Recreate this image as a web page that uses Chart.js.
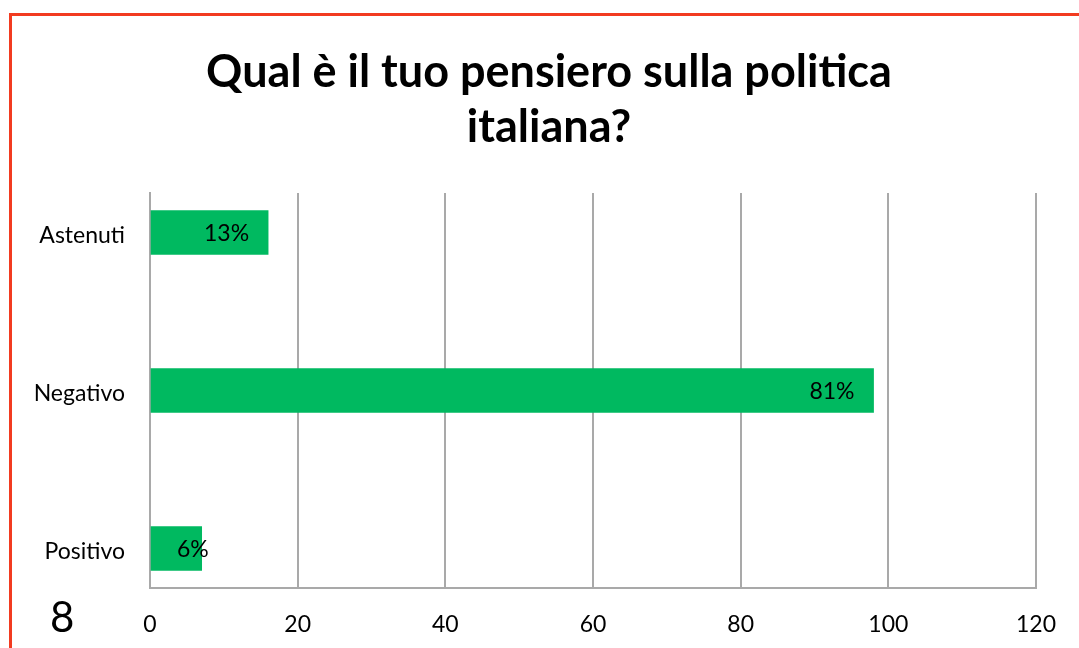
<!DOCTYPE html>
<html>
<head>
<meta charset="utf-8">
<script src="https://cdn.jsdelivr.net/npm/chart.js@4.4.1/dist/chart.umd.min.js"></script>
<style>
    html, body { margin: 0; padding: 0; background: #fff; overflow: hidden; }
    #frame {
        position: absolute; left: 9px; top: 13px; width: 1100px; height: 700px;
        border-left: 3px solid #f23b20; border-top: 3px solid #f23b20;
    }
    #chart { position: absolute; left: 0; top: 0; }
    #slide-num {
        position: absolute; left: 50px; top: 591px;
        font-family: Lato, sans-serif; font-size: 42px; color: #000;
    }
</style>
</head>
<body>
<div id="frame"></div>
<canvas id="chart" width="1079" height="648"></canvas>
<div id="slide-num">8</div>
<script>
'use strict';
const categories = ['Astenuti', 'Negativo', 'Positivo'];
const answers = [16, 98, 7];
const xTicks = [0, 20, 40, 60, 80, 100, 120];

const total = answers.reduce((a, b) => a + b, 0);
const percentLabels = answers.map(v => Math.round(v / total * 100) + '%');

const fontFamily = 'Lato, sans-serif';

// writes the percentage near the end of each bar
const barLabels = {
    id: 'barLabels',
    afterDatasetsDraw(chart) {
        const ctx = chart.ctx;
        const meta = chart.getDatasetMeta(0);
        ctx.save();
        ctx.font = '23px ' + fontFamily;
        ctx.fillStyle = '#000';
        ctx.textBaseline = 'middle';
        ctx.textAlign = 'left';
        meta.data.forEach((bar, i) => {
            const text = percentLabels[i];
            const w = ctx.measureText(text).width;
            let left = bar.x - 19 - w;
            if (left < bar.base + 26) left = bar.base + 26;
            ctx.fillText(text, left, bar.y + 1);
        });
        ctx.restore();
    },
};

let ctx = document.getElementById('chart').getContext('2d');
let myChart = new Chart(ctx, {
    type: 'bar',
    data: {
        labels: categories,
        datasets: [{
            data: answers,
            backgroundColor: '#00b960',
            barThickness: 44,
        }],
    },
    options: {
        indexAxis: 'y',
        responsive: false,
        animation: false,
        layout: {
            padding: { left: 19, right: 0, top: 0, bottom: 0 },
        },
        plugins: {
            legend: { display: false },
            tooltip: { enabled: false },
            title: {
                display: true,
                text: ['Qual è il tuo pensiero sulla politica', 'italiana?'],
                color: '#000',
                font: { family: fontFamily, size: 45, weight: 'bold', lineHeight: 1.222 },
                padding: { top: 45, bottom: 38 },
            },
        },
        scales: {
            x: {
                min: 0,
                max: 120,
                afterBuildTicks: (scale) => {
                    scale.ticks = xTicks.map(v => ({ value: v }));
                },
                afterFit: (scale) => { scale.height = 60; },
                grid: {
                    color: '#a9a9a9',
                    lineWidth: 2,
                    drawTicks: false,
                },
                border: { color: '#a9a9a9', width: 2 },
                ticks: {
                    color: '#000',
                    padding: 23,
                    font: { family: fontFamily, size: 23 },
                },
            },
            y: {
                // leave a little room above the first and below the last bar
                afterBuildTicks: (scale) => {
                    scale._startValue = -0.25;
                    scale._valueRange = categories.length - 1 + 0.5;
                },
                afterFit: (scale) => { scale.width = 131; },
                grid: { drawOnChartArea: false, drawTicks: false },
                border: { color: '#a9a9a9', width: 2 },
                ticks: {
                    color: '#000',
                    padding: 25,
                    labelOffset: 3,
                    font: { family: fontFamily, size: 23 },
                },
            },
            // empty strip on the right so the last gridline sits inside the frame
            yRight: {
                type: 'category',
                position: 'right',
                afterFit: (scale) => { scale.width = 41; },
                grid: { display: false },
                border: { display: false },
                ticks: { display: false },
            },
        },
    },
    plugins: [barLabels],
});
</script>
</body>
</html>
